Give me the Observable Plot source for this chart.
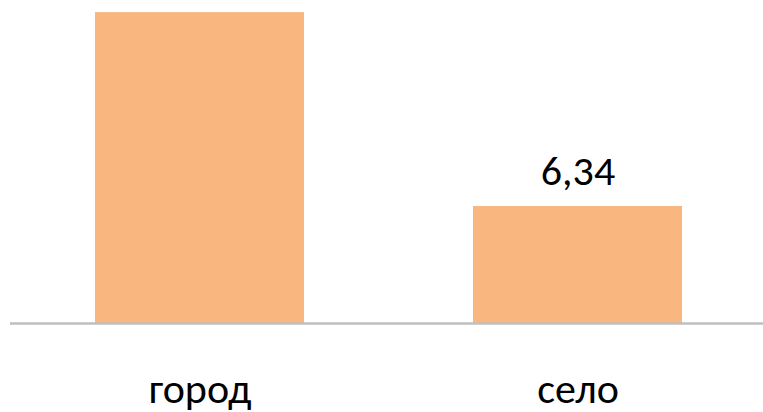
<!DOCTYPE html>
<html>
<head>
<meta charset="utf-8">
<script src="https://cdn.jsdelivr.net/npm/d3@7"></script>
<script src="https://cdn.jsdelivr.net/npm/@observablehq/plot@0.6"></script>
<style>
  html, body { margin: 0; padding: 0; background: #fff; }
  #chart svg { overflow: hidden; display: block; }
</style>
</head>
<body>
<div id="chart"></div>
<script>
const categories = ["город", "село"];
const values = [16.85, 6.34];
const valueLabels = ["16,85", "6,34"];

const data = categories.map((c, i) => ({cat: c, value: values[i], label: valueLabels[i]}));
const font = "Calibri, Carlito, 'Liberation Sans Narrow', sans-serif";

const chart = Plot.plot({
  width: 763,
  height: 412,
  marginLeft: 10,
  marginRight: 0,
  marginTop: 0,
  marginBottom: 89,
  style: {fontFamily: font, background: "#fff", color: "#000"},
  x: {domain: categories, range: [10, 767.5], paddingInner: 0.448, paddingOuter: 0.2246, label: null},
  y: {domain: [0, 18], range: [323, 323 - 18 * 18.45], axis: null},
  marks: [
    Plot.barY(data, {x: "cat", y: "value", fill: "#f9b67f"}),
    Plot.ruleY([0], {stroke: "#bfbfbf", strokeWidth: 2.5}),
    Plot.text(data, {x: "cat", y: "value", text: "label", dy: -22, lineAnchor: "bottom", fontSize: 42, fill: "#000", fontFamily: font}),
    Plot.axisX({tickSize: 0, tickPadding: 50, fontSize: 42, lineAnchor: "top", label: null, fontFamily: font})
  ]
});
document.getElementById("chart").appendChild(chart);
</script>
</body>
</html>
